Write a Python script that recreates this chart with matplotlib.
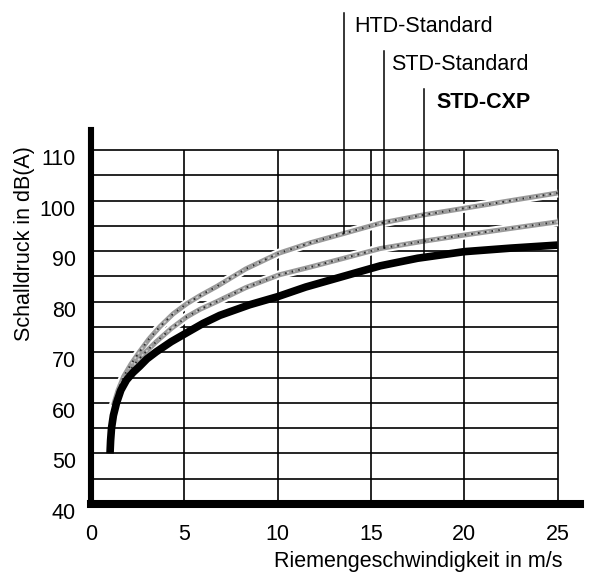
import matplotlib
matplotlib.use("Agg")
import matplotlib.pyplot as plt
import matplotlib.transforms as mtransforms

plt.rcParams["font.family"] = ["Liberation Sans", "DejaVu Sans"]

# ── Data ──────────────────────────────────────────────────────────────────────
cxp_v = [1.02, 1.05, 1.10, 1.20, 1.37, 1.60, 1.90, 2.25, 2.60, 3.00, 3.50, 4.30,
         5.10, 6.00, 6.90, 8.50, 10.0, 11.5, 13.5, 15.5, 17.5, 20.0, 22.5, 25.0]
cxp_db = [50.0, 52.5, 55.0, 57.5, 60.0, 62.5, 64.5, 66.0, 67.2, 68.7, 70.1, 72.1,
          73.8, 75.7, 77.3, 79.4, 81.0, 82.9, 85.0, 87.1, 88.6, 89.9, 90.6, 91.2]

htd_v = [1.20, 1.45, 1.75, 2.15, 2.60, 3.10, 3.70, 4.40, 5.13, 5.84, 6.73, 8.30,
         10.07, 11.8, 13.55, 15.48, 17.7, 20.03, 22.5, 25.0]
htd_db = [59.5, 62.5, 65.2, 67.7, 70.1, 72.6, 75.1, 77.6, 79.6, 81.2, 83.0, 86.5,
          89.6, 91.7, 93.5, 95.5, 97.1, 98.5, 100.0, 101.5]

std_v = [1.25, 1.50, 1.85, 2.30, 2.80, 3.50, 4.30, 5.13, 5.84, 6.73, 8.30,
         10.07, 11.8, 13.55, 15.48, 17.7, 20.03, 22.5, 25.0]
std_db = [59.5, 62.3, 65.0, 67.5, 69.6, 72.1, 74.7, 77.0, 78.5, 80.0, 82.8,
          85.3, 86.9, 88.6, 90.5, 91.9, 93.2, 94.5, 95.8]

x_ticks = [0, 5, 10, 15, 20, 25]
y_ticks = [40, 50, 60, 70, 80, 90, 100, 110]
grid_y = [45, 50, 55, 60, 65, 70, 75, 80, 85, 90, 95, 100, 105, 110]
grid_x = [5, 10, 15, 20, 25]

labels = ["HTD-Standard", "STD-Standard", "STD-CXP"]
leader_x = [13.53, 15.69, 17.84]
leader_bottom = [93.5, 90.6, 89.0]
leader_top = [137.1, 129.6, 122.1]
label_x = [14.1, 16.07, 18.53]
label_y = [133.3, 125.8, 118.3]

# ── Figure ────────────────────────────────────────────────────────────────────
fig = plt.figure(figsize=(5.9, 5.76), dpi=100)
ax = fig.add_axes([0.1542, 0.125, 0.829, 0.6497])
ax.set_xlim(0, 26.2)
ax.set_ylim(40, 114)

# grid (stops at 25 / 110)
ax.hlines(grid_y, 0, 25, color="black", lw=1.2, zorder=1)
ax.vlines(grid_x, 40, 110, color="black", lw=1.2, zorder=1)

# grey "standard" curves with a speckled, screened look
for xs, ys in [(htd_v, htd_db), (std_v, std_db)]:
    ax.plot(xs, ys, color="white", lw=6.5, solid_capstyle="butt", zorder=2)
    ax.plot(xs, ys, color="#9a9a9a", lw=3.6, solid_capstyle="butt", zorder=3)
    ax.plot(xs, ys, color="#cfcfcf", lw=1.2, ls=(0.5, (1.2, 2.3)), zorder=4)
    ax.plot(xs, ys, color="#2e2e2e", lw=1.4, ls=(0, (0.8, 2.7)), zorder=4)

# STD-CXP
ax.plot(cxp_v, cxp_db, color="black", lw=5.5, solid_capstyle="butt", zorder=5)

# leaders + labels
for i, name in enumerate(labels):
    ax.plot([leader_x[i], leader_x[i]], [leader_bottom[i], leader_top[i]],
            color="black", lw=1.1, clip_on=False, zorder=6)
    ax.text(label_x[i], label_y[i], name, fontsize=15.5, va="baseline", ha="left",
            fontweight="bold" if name == "STD-CXP" else "normal", clip_on=False)

# spines
for side in ("top", "right"):
    ax.spines[side].set_visible(False)
ax.spines["left"].set_linewidth(4.4)
ax.spines["bottom"].set_linewidth(5.8)

ax.set_xticks(x_ticks)
ax.set_yticks(y_ticks)
ax.tick_params(axis="x", length=0, pad=14.5, labelsize=15.5)
ax.tick_params(axis="y", length=0, pad=10.8, labelsize=15.5)
shift = mtransforms.ScaledTranslation(0, -5 / 72, fig.dpi_scale_trans)
for lab in ax.get_yticklabels():
    lab.set_transform(lab.get_transform() + shift)

fig.text(25 / 590, 1 - 243.5 / 576, "Schalldruck in dB(A)", rotation=90,
         ha="center", va="center", fontsize=15.5)
fig.text(563 / 590, 1 - 562 / 576, "Riemengeschwindigkeit in m/s",
         ha="right", va="center", fontsize=15.5)

fig.savefig("out.png", dpi=100)
